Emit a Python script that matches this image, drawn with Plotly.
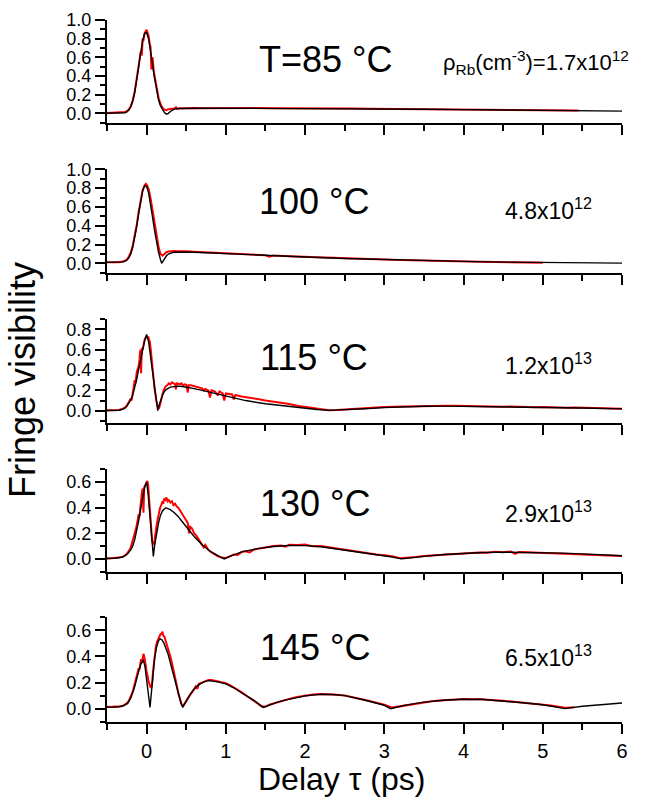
import plotly.graph_objects as go

# ---------------- data (delay in ps, fringe visibility) ----------------
temps = ["T=85 °C", "100 °C", "115 °C", "130 °C", "145 °C"]
densities = ["ρ<sub>Rb</sub>(cm<sup>-3</sup>)=1.7x10<sup>12</sup>",
             "4.8x10<sup>12</sup>", "1.2x10<sup>13</sup>",
             "2.9x10<sup>13</sup>", "6.5x10<sup>13</sup>"]
x_ticks = [0, 1, 2, 3, 4, 5, 6]

# Panel 1: 85 C
p1_model_x = [-0.5, -0.4, -0.3, -0.275, -0.25, -0.225, -0.2, -0.175, -0.15, -0.125,
              -0.1, -0.075, -0.05, -0.025, 0, 0.025, 0.05, 0.075, 0.1, 0.125,
              0.15, 0.175, 0.2, 0.225, 0.25, 0.275, 0.3, 0.325, 0.35, 0.4,
              0.5, 0.7, 1.0, 1.5, 2.0, 2.5, 3.0, 3.5, 4.0, 4.5,
              5.0, 5.5, 6.0]
p1_model_y = [0.002, 0.003, 0.005, 0.007, 0.016, 0.035, 0.071, 0.133, 0.223, 0.349,
              0.497, 0.65, 0.779, 0.857, 0.864, 0.80, 0.678, 0.528, 0.377, 0.247,
              0.148, 0.08, 0.035, 0.008, -0.008, 0.0, 0.02, 0.035, 0.045, 0.052,
              0.055, 0.055, 0.055, 0.054, 0.052, 0.05, 0.047, 0.044, 0.04, 0.036,
              0.032, 0.028, 0.024]
p1_data_x = [-0.5, -0.45, -0.4, -0.35, -0.3, -0.275, -0.25, -0.225, -0.2, -0.175,
             -0.15, -0.125, -0.11, -0.1, -0.09, -0.075, -0.06, -0.05, -0.04, -0.025,
             -0.01, 0, 0.01, 0.025, 0.04, 0.05, 0.06, 0.075, 0.09, 0.1,
             0.125, 0.15, 0.175, 0.2, 0.225, 0.25, 0.275, 0.3, 0.35, 0.37,
             0.38, 0.4, 0.45, 0.5, 0.6, 0.7, 0.8, 0.9, 1.0, 1.2,
             1.4, 1.6, 1.8, 2.0, 2.2, 2.4, 2.6, 2.8, 3.0, 3.2,
             3.4, 3.6, 3.8, 4.0, 4.2, 4.4, 4.6, 4.8, 5.0, 5.2,
             5.45]
p1_data_y = [0.004, 0.006, 0.003, 0.008, 0.01, 0.014, 0.022, 0.04, 0.075, 0.14,
             0.235, 0.36, 0.44, 0.51, 0.57, 0.66, 0.62, 0.8, 0.78, 0.86,
             0.88, 0.895, 0.87, 0.83, 0.74, 0.71, 0.47, 0.6, 0.45, 0.4,
             0.27, 0.17, 0.1, 0.06, 0.04, 0.035, 0.045, 0.05, 0.052, 0.065,
             0.048, 0.053, 0.055, 0.054, 0.057, 0.055, 0.056, 0.054, 0.056, 0.055,
             0.057, 0.054, 0.055, 0.053, 0.055, 0.052, 0.051, 0.05, 0.049, 0.048,
             0.046, 0.045, 0.043, 0.042, 0.04, 0.039, 0.037, 0.035, 0.034, 0.032,
             0.03]

# Panel 2: 100 C
p2_model_x = [-0.5, -0.4, -0.3, -0.275, -0.25, -0.225, -0.2, -0.175, -0.15, -0.125,
              -0.1, -0.075, -0.05, -0.025, 0, 0.025, 0.05, 0.075, 0.1, 0.125,
              0.15, 0.175, 0.19, 0.2, 0.225, 0.25, 0.275, 0.3, 0.325, 0.35,
              0.4, 0.45, 0.5, 0.6, 0.8, 1.0, 1.25, 1.5, 1.75, 2.0,
              2.5, 3.0, 3.5, 4.0, 4.5, 5.0, 5.5, 6.0]
p2_model_y = [0.01, 0.01, 0.015, 0.02, 0.032, 0.058, 0.10, 0.17, 0.265, 0.39,
              0.53, 0.66, 0.77, 0.825, 0.82, 0.75, 0.635, 0.49, 0.35, 0.22,
              0.12, 0.04, 0.0, 0.012, 0.05, 0.08, 0.098, 0.108, 0.114, 0.118,
              0.12, 0.12, 0.12, 0.118, 0.11, 0.104, 0.095, 0.085, 0.076, 0.067,
              0.051, 0.038, 0.028, 0.02, 0.013, 0.008, 0.004, 0.002]
p2_data_x = [-0.5, -0.45, -0.4, -0.35, -0.3, -0.275, -0.25, -0.225, -0.2, -0.175,
             -0.15, -0.125, -0.1, -0.075, -0.05, -0.025, -0.01, 0, 0.025, 0.05,
             0.075, 0.1, 0.125, 0.15, 0.175, 0.19, 0.2, 0.225, 0.25, 0.275,
             0.3, 0.35, 0.4, 0.45, 0.5, 0.6, 0.7, 0.8, 0.9, 1.0,
             1.1, 1.2, 1.3, 1.4, 1.5, 1.55, 1.6, 1.8, 2.0, 2.2,
             2.4, 2.6, 2.8, 3.0, 3.2, 3.4, 3.6, 3.8, 4.0, 4.2,
             4.4, 4.6, 4.8, 5.0]
p2_data_y = [0.012, 0.01, 0.013, 0.011, 0.018, 0.025, 0.04, 0.07, 0.115, 0.19,
             0.29, 0.41, 0.55, 0.68, 0.78, 0.83, 0.845, 0.84, 0.79, 0.69,
             0.56, 0.43, 0.3, 0.18, 0.1, 0.085, 0.082, 0.1, 0.118, 0.125,
             0.128, 0.13, 0.128, 0.13, 0.127, 0.124, 0.12, 0.115, 0.11, 0.107,
             0.1, 0.098, 0.094, 0.09, 0.086, 0.07, 0.083, 0.075, 0.068, 0.061,
             0.055, 0.049, 0.043, 0.04, 0.035, 0.03, 0.027, 0.023, 0.021, 0.017,
             0.014, 0.011, 0.009, 0.007]

# Panel 3: 115 C
p3_model_x = [-0.5, -0.4, -0.34, -0.3, -0.275, -0.25, -0.225, -0.2, -0.175, -0.15,
              -0.125, -0.1, -0.075, -0.05, -0.025, 0, 0.025, 0.05, 0.075, 0.1,
              0.125, 0.14, 0.15, 0.175, 0.2, 0.225, 0.25, 0.3, 0.35, 0.4,
              0.45, 0.5, 0.6, 0.7, 0.8, 1.0, 1.25, 1.5, 1.75, 2.0,
              2.15, 2.3, 2.5, 2.75, 3.0, 3.25, 3.5, 3.75, 4.0, 4.5,
              5.0, 5.5, 6.0]
p3_model_y = [0.002, 0.003, 0.005, 0.015, 0.025, 0.045, 0.07, 0.105, 0.155, 0.225,
              0.31, 0.41, 0.51, 0.6, 0.69, 0.75, 0.68, 0.53, 0.37, 0.22,
              0.08, 0.0, 0.035, 0.105, 0.155, 0.19, 0.21, 0.232, 0.24, 0.242,
              0.238, 0.232, 0.218, 0.2, 0.182, 0.14, 0.1, 0.068, 0.045, 0.028,
              0.012, 0.003, 0.008, 0.02, 0.03, 0.038, 0.044, 0.045, 0.043, 0.038,
              0.032, 0.026, 0.018]
p3_data_x = [-0.5, -0.45, -0.4, -0.35, -0.3, -0.275, -0.25, -0.225, -0.2, -0.19,
             -0.175, -0.16, -0.15, -0.14, -0.125, -0.11, -0.1, -0.09, -0.08, -0.07,
             -0.06, -0.05, -0.04, -0.025, -0.01, 0, 0.01, 0.02, 0.03, 0.04,
             0.05, 0.06, 0.075, 0.09, 0.1, 0.11, 0.125, 0.14, 0.155, 0.17,
             0.185, 0.2, 0.22, 0.24, 0.26, 0.28, 0.3, 0.32, 0.34, 0.36,
             0.37, 0.38, 0.4, 0.42, 0.44, 0.46, 0.48, 0.5, 0.52, 0.53,
             0.56, 0.6, 0.64, 0.68, 0.7, 0.72, 0.74, 0.78, 0.8, 0.82,
             0.86, 0.9, 0.92, 0.96, 0.98, 1.0, 1.04, 1.08, 1.1, 1.12,
             1.2, 1.3, 1.4, 1.5, 1.6, 1.7, 1.8, 1.9, 2.0, 2.1,
             2.2, 2.3, 2.4, 2.5, 2.6, 2.7, 2.8, 2.9, 3.0, 3.1,
             3.2, 3.3, 3.4, 3.5, 3.6, 3.7, 3.8, 3.9, 4.0, 4.1,
             4.2, 4.3, 4.4, 4.5, 4.6, 4.7, 4.8, 4.9, 5.0, 5.1,
             5.2, 5.3, 5.4, 5.5, 5.6, 5.7, 5.8, 5.9, 6.0]
p3_data_y = [0.005, 0.004, 0.006, 0.008, 0.02, 0.03, 0.05, 0.08, 0.12, 0.1,
             0.2, 0.25, 0.3, 0.27, 0.38, 0.42, 0.44, 0.5, 0.6, 0.37,
             0.62, 0.6, 0.66, 0.7, 0.72, 0.74, 0.71, 0.73, 0.7, 0.68,
             0.62, 0.52, 0.42, 0.3, 0.22, 0.16, 0.09, 0.04, 0.02, 0.06,
             0.12, 0.16, 0.21, 0.24, 0.25, 0.27, 0.26, 0.28, 0.27, 0.26,
             0.21, 0.27, 0.265, 0.26, 0.27, 0.25, 0.26, 0.255, 0.18, 0.25,
             0.25, 0.24, 0.235, 0.225, 0.22, 0.2, 0.215, 0.2, 0.13, 0.2,
             0.19, 0.15, 0.19, 0.17, 0.1, 0.17, 0.165, 0.16, 0.11, 0.155,
             0.14, 0.13, 0.115, 0.1, 0.09, 0.075, 0.065, 0.05, 0.04, 0.03,
             0.015, 0.005, 0.006, 0.012, 0.018, 0.022, 0.03, 0.032, 0.036, 0.04,
             0.042, 0.045, 0.048, 0.05, 0.047, 0.052, 0.05, 0.048, 0.046, 0.05,
             0.044, 0.043, 0.045, 0.04, 0.042, 0.038, 0.04, 0.035, 0.037, 0.033,
             0.034, 0.03, 0.032, 0.029, 0.028, 0.026, 0.025, 0.022, 0.02]

# Panel 4: 130 C
p4_model_x = [-0.5, -0.4, -0.3, -0.24, -0.2, -0.175, -0.15, -0.125, -0.1, -0.075,
              -0.05, -0.025, 0, 0.02, 0.04, 0.06, 0.075, 0.085, 0.1, 0.125,
              0.15, 0.175, 0.2, 0.24, 0.3, 0.35, 0.4, 0.45, 0.5, 0.6,
              0.7, 0.8, 0.9, 0.98, 1.05, 1.2, 1.4, 1.6, 1.8, 2.0,
              2.2, 2.4, 2.6, 2.8, 3.0, 3.1, 3.22, 3.35, 3.5, 3.75,
              4.0, 4.25, 4.5, 4.75, 5.0, 5.25, 5.5, 5.75, 6.0]
p4_model_y = [0.003, 0.005, 0.015, 0.04, 0.07, 0.1, 0.15, 0.22, 0.3, 0.39,
              0.48, 0.56, 0.6, 0.5, 0.35, 0.2, 0.09, 0.02, 0.1, 0.2,
              0.28, 0.34, 0.375, 0.4, 0.385, 0.36, 0.33, 0.29, 0.25, 0.175,
              0.11, 0.06, 0.025, 0.0, 0.02, 0.055, 0.08, 0.097, 0.105, 0.104,
              0.095, 0.078, 0.058, 0.04, 0.025, 0.015, 0.0, 0.01, 0.02, 0.034,
              0.044, 0.05, 0.053, 0.052, 0.049, 0.045, 0.039, 0.032, 0.025]
p4_data_x = [-0.5, -0.45, -0.4, -0.35, -0.3, -0.275, -0.25, -0.225, -0.2, -0.175,
             -0.15, -0.125, -0.1, -0.09, -0.075, -0.06, -0.05, -0.04, -0.03, -0.02,
             -0.01, 0, 0.01, 0.02, 0.03, 0.04, 0.05, 0.06, 0.07, 0.08,
             0.09, 0.1, 0.11, 0.125, 0.14, 0.155, 0.17, 0.185, 0.2, 0.21,
             0.22, 0.235, 0.25, 0.265, 0.28, 0.3, 0.32, 0.34, 0.36, 0.38,
             0.4, 0.42, 0.44, 0.46, 0.48, 0.5, 0.52, 0.535, 0.55, 0.57,
             0.6, 0.63, 0.66, 0.7, 0.72, 0.74, 0.78, 0.82, 0.86, 0.9,
             0.95, 1.0, 1.05, 1.1, 1.15, 1.2, 1.25, 1.3, 1.35, 1.4,
             1.5, 1.6, 1.7, 1.75, 1.8, 1.9, 2.0, 2.1, 2.2, 2.3,
             2.4, 2.5, 2.6, 2.7, 2.8, 2.9, 3.0, 3.1, 3.2, 3.3,
             3.4, 3.5, 3.6, 3.7, 3.8, 3.9, 4.0, 4.1, 4.2, 4.3,
             4.4, 4.5, 4.6, 4.65, 4.7, 4.8, 4.9, 5.0, 5.1, 5.2,
             5.3, 5.4, 5.5, 5.6, 5.7, 5.8, 5.9, 6.0]
p4_data_y = [0.003, 0.004, 0.006, 0.01, 0.018, 0.025, 0.04, 0.06, 0.09, 0.14,
             0.2, 0.26, 0.35, 0.33, 0.44, 0.52, 0.55, 0.36, 0.56, 0.57,
             0.58, 0.6, 0.61, 0.57, 0.48, 0.4, 0.3, 0.2, 0.14, 0.12,
             0.11, 0.14, 0.2, 0.26, 0.31, 0.36, 0.4, 0.42, 0.45, 0.43,
             0.47, 0.46, 0.48, 0.45, 0.46, 0.44, 0.45, 0.42, 0.43, 0.41,
             0.4, 0.38, 0.36, 0.35, 0.33, 0.3, 0.28, 0.2, 0.25, 0.24,
             0.2, 0.18, 0.15, 0.12, 0.09, 0.11, 0.07, 0.05, 0.035, 0.02,
             0.01, 0.008, 0.02, 0.035, 0.03, 0.055, 0.06, 0.05, 0.072, 0.078,
             0.085, 0.1, 0.104, 0.095, 0.11, 0.108, 0.112, 0.098, 0.1, 0.09,
             0.083, 0.07, 0.062, 0.05, 0.045, 0.035, 0.028, 0.02, 0.006, 0.008,
             0.015, 0.022, 0.026, 0.032, 0.036, 0.04, 0.045, 0.047, 0.05, 0.048,
             0.056, 0.052, 0.058, 0.04, 0.054, 0.052, 0.05, 0.048, 0.047, 0.045,
             0.042, 0.04, 0.038, 0.034, 0.032, 0.028, 0.025, 0.022]

# Panel 5: 145 C
p5_model_x = [-0.5, -0.4, -0.3, -0.24, -0.2, -0.175, -0.15, -0.125, -0.1, -0.075,
              -0.05, -0.04, -0.02, 0, 0.02, 0.043, 0.06, 0.08, 0.1, 0.125,
              0.15, 0.17, 0.19, 0.22, 0.25, 0.27, 0.3, 0.33, 0.36, 0.38,
              0.41, 0.435, 0.455, 0.48, 0.52, 0.55, 0.6, 0.65, 0.72, 0.78,
              0.85, 0.9, 1.0, 1.1, 1.2, 1.25, 1.35, 1.47, 1.55, 1.65,
              1.75, 1.9, 2.0, 2.2, 2.35, 2.5, 2.75, 3.0, 3.08, 3.25,
              3.5, 3.75, 4.0, 4.25, 4.5, 4.75, 5.0, 5.28, 5.5, 5.75,
              6.0]
p5_model_y = [0.012, 0.012, 0.02, 0.04, 0.08, 0.12, 0.17, 0.23, 0.29, 0.34,
              0.365, 0.37, 0.32, 0.22, 0.12, 0.01, 0.12, 0.27, 0.38, 0.47,
              0.52, 0.535, 0.53, 0.5, 0.45, 0.42, 0.35, 0.28, 0.2, 0.16,
              0.09, 0.04, 0.01, 0.04, 0.08, 0.11, 0.15, 0.18, 0.205, 0.215,
              0.21, 0.205, 0.19, 0.16, 0.12, 0.1, 0.065, 0.01, 0.03, 0.05,
              0.065, 0.088, 0.098, 0.11, 0.108, 0.1, 0.066, 0.026, 0.0, 0.025,
              0.05, 0.064, 0.072, 0.07, 0.06, 0.045, 0.03, 0.0, 0.018, 0.03,
              0.043]
p5_data_x = [-0.5, -0.45, -0.4, -0.35, -0.3, -0.275, -0.25, -0.225, -0.2, -0.175,
             -0.15, -0.125, -0.1, -0.09, -0.08, -0.07, -0.06, -0.05, -0.04, -0.03,
             -0.02, -0.01, 0, 0.01, 0.02, 0.03, 0.045, 0.06, 0.07, 0.08,
             0.09, 0.1, 0.115, 0.13, 0.145, 0.16, 0.175, 0.19, 0.2, 0.21,
             0.225, 0.24, 0.26, 0.28, 0.3, 0.32, 0.34, 0.36, 0.38, 0.4,
             0.42, 0.44, 0.46, 0.48, 0.5, 0.53, 0.56, 0.6, 0.62, 0.64,
             0.66, 0.7, 0.74, 0.78, 0.82, 0.86, 0.9, 0.95, 1.0, 1.05,
             1.1, 1.15, 1.2, 1.25, 1.3, 1.35, 1.4, 1.45, 1.5, 1.55,
             1.6, 1.7, 1.8, 1.9, 2.0, 2.1, 2.2, 2.3, 2.4, 2.5,
             2.6, 2.7, 2.8, 2.9, 3.0, 3.1, 3.2, 3.3, 3.4, 3.5,
             3.6, 3.7, 3.8, 3.9, 4.0, 4.1, 4.2, 4.3, 4.4, 4.5,
             4.6, 4.7, 4.8, 4.9, 5.0, 5.1, 5.2, 5.3, 5.4]
p5_data_y = [0.015, 0.012, 0.016, 0.014, 0.022, 0.03, 0.04, 0.06, 0.09, 0.13,
             0.19, 0.25, 0.31, 0.3, 0.36, 0.38, 0.35, 0.41, 0.42, 0.4,
             0.37, 0.33, 0.28, 0.26, 0.22, 0.2, 0.17, 0.16, 0.2, 0.28,
             0.35, 0.41, 0.47, 0.51, 0.53, 0.55, 0.57, 0.575, 0.59, 0.56,
             0.55, 0.52, 0.48, 0.45, 0.4, 0.35, 0.3, 0.24, 0.18, 0.12,
             0.07, 0.035, 0.02, 0.04, 0.065, 0.09, 0.115, 0.15, 0.17, 0.15,
             0.19, 0.2, 0.21, 0.22, 0.22, 0.215, 0.21, 0.205, 0.195, 0.18,
             0.165, 0.145, 0.125, 0.105, 0.085, 0.065, 0.04, 0.018, 0.015, 0.03,
             0.04, 0.058, 0.075, 0.09, 0.1, 0.108, 0.112, 0.11, 0.106, 0.1,
             0.088, 0.074, 0.06, 0.045, 0.03, 0.008, 0.018, 0.03, 0.042, 0.05,
             0.057, 0.062, 0.067, 0.07, 0.074, 0.072, 0.073, 0.068, 0.066, 0.06,
             0.055, 0.05, 0.044, 0.038, 0.032, 0.025, 0.015, 0.006, 0.01]

# ---------------- layout helpers ----------------
FIG_W, FIG_H = 645, 798
ML, MR, MT, MB = 107, 23, 20, 76
PW, PH = FIG_W - ML - MR, FIG_H - MT - MB


def px_x(px):
    return (px - ML) / PW


def px_y(py):
    return (FIG_H - MB - py) / PH


FONT = "Liberation Sans, Arial, sans-serif"

panels = [
    (p1_model_x, p1_model_y, p1_data_x, p1_data_y, [-0.1, 1.0], (20, 122.7)),
    (p2_model_x, p2_model_y, p2_data_x, p2_data_y, [-0.1, 1.0], (169.3, 272.7)),
    (p3_model_x, p3_model_y, p3_data_x, p3_data_y, [-0.118, 0.9], (319.3, 422.7)),
    (p4_model_x, p4_model_y, p4_data_x, p4_data_y, [-0.1, 0.7], (469.3, 571.7)),
    (p5_model_x, p5_model_y, p5_data_x, p5_data_y, [-0.1, 0.7], (617.3, 721.7)),
]

temp_pos = [(257, 59.5), (257, 201.7), (258, 357.5), (258, 504), (258, 647.5)]
dens_pos = [(441, 62), (503, 209), (503, 364), (503, 512), (503, 655.5)]
dens_size = [22, 23, 23, 23, 23]

fig = go.Figure()
layout = {}
annotations = []
n = len(panels)
for i, (mx, my, dx, dy, yr, (ptop, pbot)) in enumerate(panels, start=1):
    sfx = "" if i == 1 else str(i)
    xa, ya = "x" + sfx, "y" + sfx
    m = min(len(dx), len(dy))
    fig.add_trace(go.Scatter(x=dx[:m], y=dy[:m], xaxis=xa, yaxis=ya, mode="lines",
                             line=dict(color="#ff0000", width=2), hoverinfo="skip"))
    m2 = min(len(mx), len(my))
    fig.add_trace(go.Scatter(x=mx[:m2], y=my[:m2], xaxis=xa, yaxis=ya, mode="lines",
                             line=dict(color="#000000", width=1.4), hoverinfo="skip"))
    layout["xaxis" + sfx] = dict(
        domain=[0, 1], anchor=ya, range=[-0.5, 6.0],
        showline=True, linecolor="black", linewidth=2, mirror=False,
        showgrid=False, zeroline=False, automargin=False,
        ticks="outside", ticklen=10, tickwidth=2, tickcolor="black",
        tickmode="array", tickvals=x_ticks,
        showticklabels=(i == n),
        tickfont=dict(family=FONT, size=20, color="black"),
        minor=dict(ticks="outside", ticklen=6, tickwidth=2, tickcolor="black",
                   dtick=0.5, tick0=0, showgrid=False),
    )
    layout["yaxis" + sfx] = dict(
        domain=[px_y(pbot), px_y(ptop)], anchor=xa, range=yr,
        showline=True, linecolor="black", linewidth=2, mirror=False,
        showgrid=False, zeroline=False, automargin=False,
        ticks="outside", ticklen=10, tickwidth=2, tickcolor="black",
        dtick=0.2, tick0=0, tickformat=".1f",
        tickfont=dict(family=FONT, size=18, color="black"),
        minor=dict(ticks="outside", ticklen=5, tickwidth=2, tickcolor="black",
                   dtick=0.1, tick0=0, showgrid=False),
    )
    tx, ty = temp_pos[i - 1]
    annotations.append(dict(text=temps[i - 1], x=px_x(tx), y=px_y(ty),
                            xref="paper", yref="paper", xanchor="left", yanchor="middle",
                            showarrow=False, font=dict(family=FONT, size=36, color="black")))
    dxp, dyp = dens_pos[i - 1]
    annotations.append(dict(text=densities[i - 1], x=px_x(dxp), y=px_y(dyp),
                            xref="paper", yref="paper", xanchor="left", yanchor="middle",
                            showarrow=False,
                            font=dict(family=FONT, size=dens_size[i - 1], color="black")))

annotations.append(dict(text="Fringe visibility", x=px_x(23), y=px_y(380),
                        xref="paper", yref="paper", xanchor="center", yanchor="middle",
                        textangle=-90, showarrow=False,
                        font=dict(family=FONT, size=36, color="black")))
annotations.append(dict(text="Delay τ (ps)", x=px_x(341), y=px_y(779),
                        xref="paper", yref="paper", xanchor="center", yanchor="middle",
                        showarrow=False, font=dict(family=FONT, size=32, color="black")))

fig.update_layout(
    width=FIG_W, height=FIG_H,
    margin=dict(l=ML, r=MR, t=MT, b=MB, autoexpand=False),
    paper_bgcolor="white", plot_bgcolor="white",
    showlegend=False, annotations=annotations, **layout,
)

fig.write_html("out.html",
               config={"displayModeBar": False},
               post_script="document.body.style.margin='0';document.body.style.overflow='hidden';")
